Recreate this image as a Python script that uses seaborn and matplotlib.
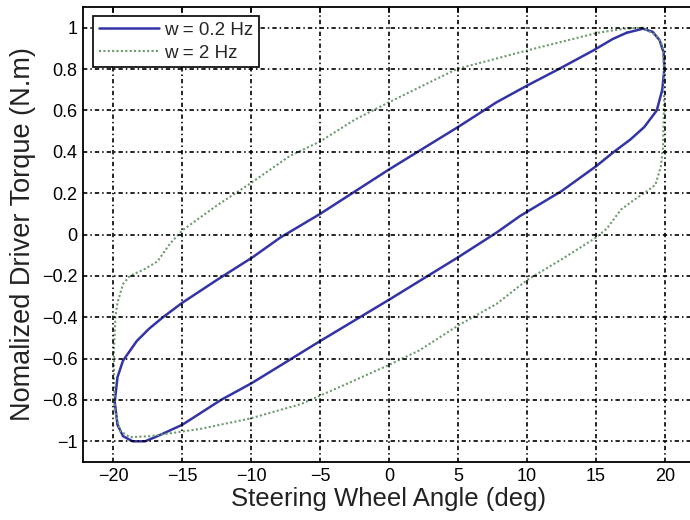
import numpy as np
import pandas as pd
import matplotlib
matplotlib.use("Agg")
import matplotlib.pyplot as plt
import seaborn as sns
from matplotlib.ticker import FuncFormatter

# ---- data ----
blue_x = [17.2, 18.4, 19.1, 19.6, 19.9, 19.95, 19.8, 19.4, 18.5, 17.5, 16.3, 15.0, 12.5, 9.5, 7.8, 5.0,
          0.0, -5.0, -7.8, -10.0, -12.2, -15.0, -16.8, -17.7, -18.6, -19.3, -19.7, -19.9, -19.7, -19.3,
          -18.3, -17.4, -16.4, -15.0, -12.5, -9.9, -7.9, -5.0, 0.0, 5.0, 7.8, 10.0, 12.3, 14.8, 16.2, 17.2]
blue_y = [0.975, 0.995, 0.98, 0.94, 0.88, 0.80, 0.70, 0.60, 0.52, 0.46, 0.40, 0.33, 0.21, 0.09, 0.01, -0.11,
          -0.315, -0.515, -0.63, -0.72, -0.80, -0.92, -0.975, -1.0, -1.0, -0.975, -0.92, -0.81, -0.69, -0.61,
          -0.515, -0.455, -0.40, -0.33, -0.22, -0.11, -0.015, 0.10, 0.315, 0.52, 0.64, 0.72, 0.80, 0.89, 0.945, 0.975]

green_x = [-19.9, -19.95, -19.95, -19.85, -19.7, -19.3, -18.8, -17.8, -16.8, -15.9, -15.0, -12.5, -10.0,
           -7.2, -5.0, -2.5, 0.0, 4.9, 10.0, 15.1, 17.0, 18.4, 19.4, 19.85, 19.95, 19.9, 19.85, 19.7, 19.3,
           18.7, 17.7, 16.8, 15.8, 15.0, 12.5, 10.0, 7.8, 5.0, 2.2, 0.0, -3.0, -6.4, -10.1, -13.7, -17.3,
           -18.8, -19.5, -19.9]
green_y = [-0.85, -0.70, -0.55, -0.40, -0.33, -0.24, -0.20, -0.17, -0.13, -0.045, 0.02, 0.14, 0.25,
           0.38, 0.45, 0.555, 0.64, 0.80, 0.89, 0.975, 0.995, 1.0, 0.96, 0.91, 0.75, 0.55, 0.42, 0.33, 0.24,
           0.21, 0.165, 0.12, 0.03, -0.015, -0.12, -0.22, -0.335, -0.44, -0.56, -0.63, -0.72, -0.82, -0.89,
           -0.94, -0.975, -0.98, -0.95, -0.85]

series_labels = ["w = 0.2 Hz", "w = 2 Hz"]
x_ticks = [-20, -15, -10, -5, 0, 5, 10, 15, 20]
y_ticks = [-1, -0.8, -0.6, -0.4, -0.2, 0, 0.2, 0.4, 0.6, 0.8, 1]
x_label = "Steering Wheel Angle (deg)"
y_label = "Nomalized Driver Torque (N.m)"

# ---- styling ----
sns.set_theme(style="white")
plt.rcParams["font.family"] = ["Liberation Sans", "DejaVu Sans"]

fig = plt.figure(figsize=(6.9, 5.2), dpi=100)
# right edge of the axes lies outside the canvas (cropped, as in the reference)
ax = fig.add_axes([83 / 690, 1 - 462 / 520, (720 - 83) / 690, (462 - 7) / 520])

df_blue = pd.DataFrame({"x": blue_x, "y": blue_y})
df_green = pd.DataFrame({"x": green_x, "y": green_y})

sns.lineplot(data=df_blue, x="x", y="y", sort=False, estimator=None, ax=ax,
             color="#3333a8", linewidth=1.8, label=series_labels[0])
sns.lineplot(data=df_green, x="x", y="y", sort=False, estimator=None, ax=ax,
             color="#6f9a6f", linewidth=1.5, linestyle=(0, (1, 1.1)), label=series_labels[1])

ax.set_xlim(-22.2, (720 - 389) / 13.8)
ax.set_ylim(-1.1, 1.1)
ax.set_xticks(x_ticks)
ax.set_yticks(y_ticks)
fmt = FuncFormatter(lambda v, p: ("%g" % v).replace("-", "\u2212"))
ax.xaxis.set_major_formatter(fmt)
ax.yaxis.set_major_formatter(fmt)

ax.grid(True, color="black", linestyle=(0, (2.6, 1.8, 0.9, 1.8)), linewidth=1.2)
ax.set_axisbelow(False)
ax.tick_params(direction="in", top=True, right=False, length=4.5, width=1.1,
               labelsize=13, colors="black", pad=4)
for name, s in ax.spines.items():
    s.set_color("black")
    s.set_linewidth(1.3)
    s.set_visible(name != "right")

ax.set_xlabel(x_label, fontsize=18.5, color="#222222")
ax.xaxis.set_label_coords((389 - 83) / 637, -0.056)
ax.set_ylabel(y_label, fontsize=19.5, color="#222222", labelpad=4)

leg = ax.legend(loc="upper left", bbox_to_anchor=(10 / 637, 0.98), fontsize=13.5,
                frameon=True, fancybox=False, edgecolor="black", framealpha=1,
                handlelength=3.2, handletextpad=0.3, borderpad=0.3, labelspacing=0.3,
                borderaxespad=0)
leg.get_frame().set_linewidth(1.2)

fig.savefig("out.png", dpi=100, facecolor="white")
